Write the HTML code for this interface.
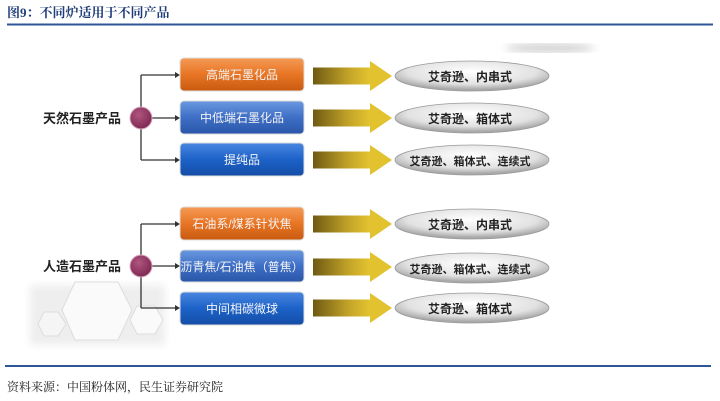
<!DOCTYPE html>
<html><head><meta charset="utf-8"><style>
body{margin:0;background:#fff;}
svg{display:block;}
</style></head><body>
<svg width="720" height="401" viewBox="0 0 720 401" xmlns="http://www.w3.org/2000/svg">
<defs>
<linearGradient id="og" x1="0" y1="0" x2="0" y2="1"><stop offset="0" stop-color="#f59a55"/><stop offset="0.5" stop-color="#e87524"/><stop offset="1" stop-color="#c85a10"/></linearGradient>
<linearGradient id="bg" x1="0" y1="0" x2="0" y2="1"><stop offset="0" stop-color="#6a98e0"/><stop offset="0.5" stop-color="#3e6fc6"/><stop offset="1" stop-color="#2a56a8"/></linearGradient>
<linearGradient id="bg2" x1="0" y1="0" x2="0" y2="1"><stop offset="0" stop-color="#4a86e0"/><stop offset="0.5" stop-color="#1c62c8"/><stop offset="1" stop-color="#154da6"/></linearGradient>
<linearGradient id="ag" x1="0" y1="0" x2="1" y2="0"><stop offset="0" stop-color="#6e5a12"/><stop offset="0.6" stop-color="#c4a428"/><stop offset="1" stop-color="#e8c830"/></linearGradient>
<radialGradient id="eg" cx="0.5" cy="0.35" r="0.6"><stop offset="0" stop-color="#ffffff"/><stop offset="0.7" stop-color="#e2e2e2"/><stop offset="1" stop-color="#a8a8a8"/></radialGradient>
<radialGradient id="cg" cx="0.4" cy="0.35" r="0.7"><stop offset="0" stop-color="#b0567e"/><stop offset="1" stop-color="#7a2550"/></radialGradient>
<filter id="bl"><feGaussianBlur stdDeviation="4"/></filter>
<g id="arr"><rect x="313" y="-8.5" width="60" height="17" fill="url(#ag)"/><polygon points="370,-15 392,0 370,15" fill="#e2c22e"/></g>
</defs>
<text x="7" y="17" font-family="'Liberation Serif','Noto Serif CJK SC',serif" font-size="13" font-weight="bold" fill="#1f3d7a">图9：不同炉适用于不同产品</text>
<rect x="7" y="23.5" width="706" height="2" fill="#2d5597"/>
<ellipse cx="550" cy="48" rx="45" ry="4" fill="#ccc" filter="url(#bl)"/>
<!-- hexagons -->
<g fill="#eee" filter="url(#bl)"><rect x="30" y="285" width="135" height="60"/></g>
<polygon points="75,282 118,282 132,310 118,340 75,340 62,310" fill="#fafafa" stroke="#ddd"/>
<polygon points="137,306 155,306 163,320 155,334 137,334 130,320" fill="#fafafa" stroke="#ddd"/>
<polygon points="44,312 58,312 66,324 58,336 44,336 38,324" fill="#f5f5f5" stroke="#ddd"/>
<g font-family="'Liberation Sans','Noto Sans CJK SC',sans-serif" font-weight="bold" font-size="13" fill="#222" text-anchor="end">
<text x="121" y="123">天然石墨产品</text><text x="121" y="271">人造石墨产品</text></g>
<g stroke="#333" stroke-width="1.3" fill="none">
<path d="M141 75V160M141 75H176M141 118H176M141 160H176"/>
<path d="M141 224V308M141 224H176M141 266H176M141 308H176"/></g>
<g fill="#333"><polygon points="175,72 180,75 175,78"/><polygon points="175,115 180,118 175,121"/><polygon points="175,157 180,160 175,163"/>
<polygon points="175,221 180,224 175,227"/><polygon points="175,263 180,266 175,269"/><polygon points="175,305 180,308 175,311"/></g>
<circle cx="141" cy="118" r="11" fill="url(#cg)" stroke="#d9a8c0"/>
<circle cx="141" cy="266" r="11" fill="url(#cg)" stroke="#d9a8c0"/>
<g stroke="#ddd" stroke-width="1">
<rect x="180" y="58" width="124" height="33" rx="4" fill="url(#og)"/>
<rect x="180" y="101" width="124" height="33" rx="4" fill="url(#bg)"/>
<rect x="180" y="143" width="124" height="33" rx="4" fill="url(#bg2)"/>
<rect x="180" y="207" width="124" height="33" rx="4" fill="url(#og)"/>
<rect x="180" y="250" width="124" height="32" rx="4" fill="url(#bg)"/>
<rect x="180" y="292" width="124" height="33" rx="4" fill="url(#bg2)"/></g>
<g font-family="'Liberation Sans','Noto Sans CJK SC',sans-serif" font-size="12" fill="#f4f4f4" text-anchor="middle">
<text x="242" y="79">高端石墨化品</text><text x="242" y="122">中低端石墨化品</text><text x="242" y="164">提纯品</text>
<text x="242" y="228">石油系/煤系针状焦</text><text x="242" y="271">沥青焦/石油焦（普焦）</text><text x="242" y="313">中间相碳微球</text></g>
<use href="#arr" y="76"/><use href="#arr" y="118"/><use href="#arr" y="160"/>
<use href="#arr" y="224"/><use href="#arr" y="267"/><use href="#arr" y="308"/>
<g fill="url(#eg)" stroke="#999" stroke-width="0.8">
<ellipse cx="472" cy="76" rx="77" ry="15"/><ellipse cx="472" cy="118" rx="77" ry="15"/><ellipse cx="472" cy="160" rx="77" ry="15"/>
<ellipse cx="472" cy="224" rx="77" ry="15"/><ellipse cx="472" cy="268" rx="77" ry="15"/><ellipse cx="472" cy="308" rx="77" ry="15"/></g>
<g font-family="'Liberation Sans','Noto Sans CJK SC',sans-serif" font-weight="bold" font-size="12" fill="#222" text-anchor="middle">
<text x="470" y="81">艾奇逊、内串式</text><text x="470" y="123">艾奇逊、箱体式</text><text x="470" y="165" font-size="11">艾奇逊、箱体式、连续式</text>
<text x="470" y="229">艾奇逊、内串式</text><text x="470" y="273" font-size="11">艾奇逊、箱体式、连续式</text><text x="470" y="313">艾奇逊、箱体式</text></g>
<rect x="5" y="365" width="706" height="2" fill="#2d5597"/>
<text x="7" y="391" font-family="'Liberation Serif','Noto Serif CJK SC',serif" font-size="12" fill="#222">资料来源：中国粉体网，民生证券研究院</text>
</svg>
</body></html>
